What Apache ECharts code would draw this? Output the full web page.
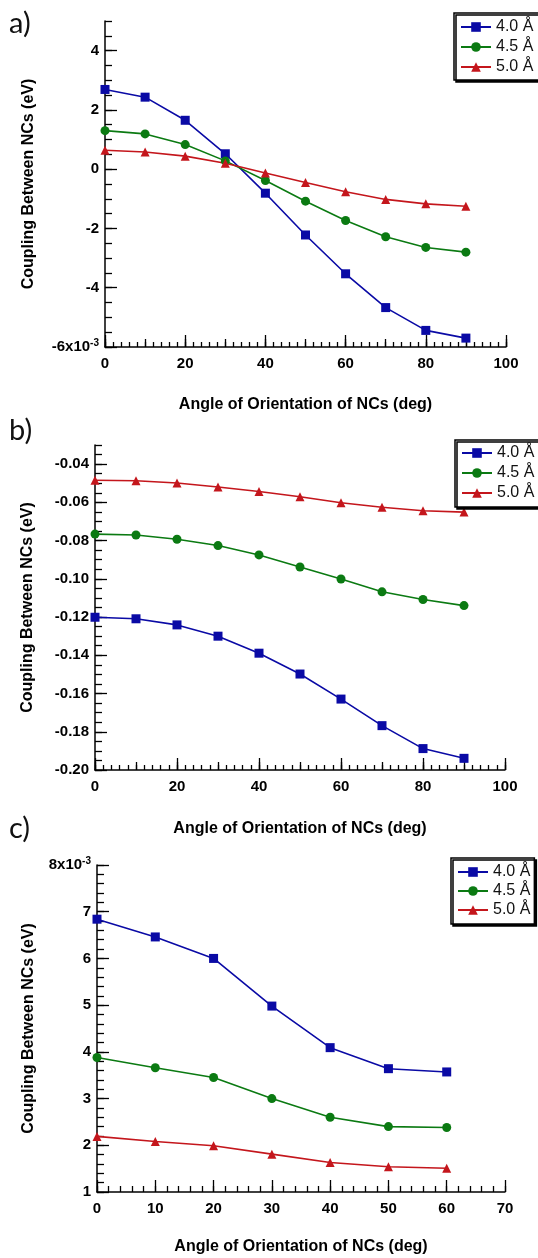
<!DOCTYPE html>
<html>
<head>
<meta charset="utf-8">
<script src="https://cdn.jsdelivr.net/npm/echarts@6/dist/echarts.min.js"></script>
<style>
  html, body { margin: 0; padding: 0; background: #fff; }
  #chart { width: 538px; height: 1258px; }
</style>
</head>
<body>
<div id="chart"></div>
<script>
// series names (same in all three panels)
const names = ['4.0 Å', '4.5 Å', '5.0 Å'];
const colors = ['#0a0aa5', '#0b7a12', '#c4161c'];
const symbols = ['rect', 'circle', 'triangle'];

// a) coupling, units of 1e-3 eV
const anglesA = [0, 10, 20, 30, 40, 50, 60, 70, 80, 90];
const a40 = [2.69, 2.43, 1.65, 0.52, -0.81, -2.22, -3.53, -4.67, -5.44, -5.70];
const a45 = [1.30, 1.19, 0.83, 0.28, -0.38, -1.08, -1.73, -2.28, -2.64, -2.80];
const a50 = [0.64, 0.58, 0.44, 0.20, -0.13, -0.45, -0.76, -1.02, -1.17, -1.25];
const yTicksA = [-6, -4, -2, 0, 2, 4];

// b) coupling, eV
const anglesB = [0, 10, 20, 30, 40, 50, 60, 70, 80, 90];
const b40 = [-0.1201, -0.1209, -0.1241, -0.1300, -0.1389, -0.1498, -0.1629, -0.1768, -0.1888, -0.1939];
const b45 = [-0.0766, -0.0771, -0.0793, -0.0826, -0.0875, -0.0938, -0.1001, -0.1068, -0.1108, -0.1140];
const b50 = [-0.0484, -0.0487, -0.0499, -0.0520, -0.0543, -0.0571, -0.0602, -0.0626, -0.0644, -0.0651];
const yTicksB = [-0.20, -0.18, -0.16, -0.14, -0.12, -0.10, -0.08, -0.06, -0.04];

// c) coupling, units of 1e-3 eV
const anglesC = [0, 10, 20, 30, 40, 50, 60];
const c40 = [6.84, 6.46, 6.00, 4.98, 4.09, 3.64, 3.57];
const c45 = [3.88, 3.66, 3.45, 3.00, 2.60, 2.40, 2.38];
const c50 = [2.19, 2.08, 1.99, 1.81, 1.63, 1.54, 1.51];
const yTicksC = [1, 2, 3, 4, 5, 6, 7, 8];

const xTitle = 'Angle of Orientation of NCs (deg)';
const yTitle = 'Coupling Between NCs (eV)';
const FONT = '"Liberation Sans", Arial, sans-serif';

function steps (from, to, step) {
  const out = [];
  for (let v = from; v <= to + 1e-9; v += step) out.push(+v.toFixed(6));
  return out;
}

const chart = echarts.init(document.getElementById('chart'), null, { renderer: 'canvas' });

const grids = [], xAxes = [], yAxes = [], series = [], legends = [];

const tickLine = { color: '#000', width: 1.3 };
const labelStyle = {
  color: '#000', fontSize: 15, fontWeight: 'bold', fontFamily: FONT,
  rich: {
    m: { color: '#000', fontSize: 15, fontWeight: 'bold', fontFamily: FONT, lineHeight: 17 },
    s: { color: '#000', fontSize: 10, fontWeight: 'bold', fontFamily: FONT, lineHeight: 10, verticalAlign: 'top' }
  }
};

function addPanel (p) {
  const gi = grids.length;
  grids.push({ left: p.left, top: p.top, width: p.width, height: p.height, outerBoundsMode: 'none' });

  // x axes: labelled major ticks, then shorter ones
  const xMain = xAxes.length;
  xAxes.push({
    type: 'value', gridIndex: gi, position: 'bottom', min: p.xMin, max: p.xMax, interval: p.xMajor,
    axisLine: { show: true, onZero: false, lineStyle: { color: '#000', width: 1.5 } },
    axisTick: { show: true, inside: true, length: 12, lineStyle: tickLine },
    axisLabel: { margin: 9, color: '#000', fontSize: 15, fontWeight: 'bold', fontFamily: FONT },
    splitLine: { show: false },
    name: xTitle, nameLocation: 'middle', nameGap: p.xNameGap,
    nameTextStyle: { color: '#000', fontSize: 16, fontWeight: 'bold', fontFamily: FONT }
  });
  p.xSub.forEach(s => {
    xAxes.push({
      type: 'value', gridIndex: gi, position: 'bottom', min: p.xMin, max: p.xMax, interval: s.interval,
      axisLine: { show: false, onZero: false }, axisLabel: { show: false }, splitLine: { show: false },
      axisTick: { show: true, inside: true, length: s.length, lineStyle: tickLine }
    });
  });

  const yMain = yAxes.length;
  yAxes.push({
    type: 'value', gridIndex: gi, position: 'left', min: p.yMin, max: p.yMax,
    axisLine: { show: true, onZero: false, lineStyle: { color: '#000', width: 1.5 } },
    axisTick: { show: true, inside: true, length: 12, lineStyle: tickLine, customValues: p.yTicks },
    axisLabel: Object.assign({ margin: 6, customValues: p.yTicks, formatter: p.yFmt }, labelStyle),
    splitLine: { show: false },
    name: yTitle, nameLocation: 'middle', nameGap: p.yNameGap,
    nameTextStyle: { color: '#000', fontSize: 16, fontWeight: 'bold', fontFamily: FONT }
  });
  yAxes.push({
    type: 'value', gridIndex: gi, position: 'left', min: p.yMin, max: p.yMax,
    axisLine: { show: false, onZero: false }, axisLabel: { show: false }, splitLine: { show: false },
    axisTick: { show: true, inside: true, length: p.yMinorLen, lineStyle: tickLine, customValues: p.yMinor }
  });

  p.values.forEach((vals, k) => {
    series.push({
      type: 'line', name: names[k], xAxisIndex: xMain, yAxisIndex: yMain,
      data: p.x.map((x, i) => [x, vals[i]]),
      symbol: symbols[k], symbolSize: 9, showAllSymbol: true,
      lineStyle: { color: colors[k], width: 1.6 },
      itemStyle: { color: colors[k] },
      emphasis: { disabled: true }, z: 3
    });
  });

  legends.push({
    show: true, orient: 'vertical', left: p.legend.left, top: p.legend.top,
    padding: p.legend.padding, itemGap: p.legend.gap, itemWidth: 30, itemHeight: 12,
    data: names, selectedMode: false,
    textStyle: { color: '#111', fontSize: 16, fontFamily: FONT },
    backgroundColor: '#fff', borderColor: '#000', borderWidth: 1.5,
    shadowColor: '#000', shadowBlur: 0, shadowOffsetX: 2, shadowOffsetY: 2
  });
}

addPanel({
  left: 105, top: 21, width: 401, height: 326,
  xMin: 0, xMax: 100, xMajor: 20, xSub: [{ interval: 10, length: 8 }, { interval: 2, length: 5 }],
  yMin: -6, yMax: 5, yTicks: yTicksA, yMinor: steps(-6, 5, 0.5), yMinorLen: 7,
  yFmt: v => (v === -6 ? '{m|-6x10}{s|-3}' : String(v)),
  x: anglesA, values: [a40, a45, a50], xNameGap: 50, yNameGap: 68,
  legend: { left: 454, top: 13, padding: [6, 14, 5, 6], gap: 4 }
});

addPanel({
  left: 95, top: 445, width: 410, height: 325,
  xMin: 0, xMax: 100, xMajor: 20, xSub: [{ interval: 10, length: 8 }, { interval: 2, length: 5 }],
  yMin: -0.2, yMax: -0.03, yTicks: yTicksB, yMinor: steps(-0.2, -0.03, 0.005), yMinorLen: 7,
  yFmt: v => v.toFixed(2),
  x: anglesB, values: [b40, b45, b50], xNameGap: 51, yNameGap: 59,
  legend: { left: 455, top: 440, padding: [5, 14, 6, 6], gap: 4 }
});

addPanel({
  left: 97, top: 865, width: 408, height: 327,
  xMin: 0, xMax: 70, xMajor: 10, xSub: [{ interval: 2, length: 6 }],
  yMin: 1, yMax: 8, yTicks: yTicksC, yMinor: steps(1, 8, 0.2), yMinorLen: 7,
  yFmt: v => (v === 8 ? '{m|8x10}{s|-3}' : String(v)),
  x: anglesC, values: [c40, c45, c50], xNameGap: 47, yNameGap: 60,
  legend: { left: 451, top: 858, padding: [6, 4, 6, 6], gap: 3 }
});

const panelTitle = (text, top) => ({
  text: text, left: 9, top: top, padding: 0,
  textStyle: { color: '#111', fontSize: 29, fontWeight: 'normal', fontFamily: 'Lato, "Open Sans", sans-serif' }
});

chart.setOption({
  animation: false,
  backgroundColor: '#fff',
  title: [panelTitle('a)', 9), panelTitle('b)', 416), panelTitle('c)', 814)],
  grid: grids,
  xAxis: xAxes,
  yAxis: yAxes,
  legend: legends,
  series: series
});
</script>
</body>
</html>
